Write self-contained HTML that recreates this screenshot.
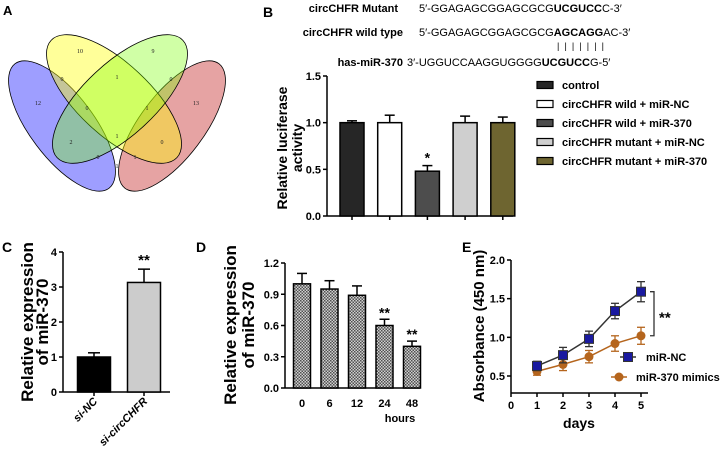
<!DOCTYPE html>
<html><head><meta charset="utf-8"><style>
html,body{margin:0;padding:0;background:#fff;}
svg{display:block;font-family:"Liberation Sans",Arial,sans-serif;}
.b{font-weight:bold;}
</style></head><body>
<svg id="fig" width="724" height="455" viewBox="0 0 724 455" xmlns="http://www.w3.org/2000/svg">
<defs>
<pattern id="chk" width="3" height="3" patternUnits="userSpaceOnUse">
<rect width="3" height="3" fill="#d0d0d0"/><rect width="1.5" height="1.5" fill="#505050"/><rect x="1.5" y="1.5" width="1.5" height="1.5" fill="#505050"/>
</pattern>
</defs>
<!-- Panel A Venn -->
<g>
<text x="3" y="15" class="b" font-size="13">A</text>
<ellipse cx="62" cy="126" rx="78" ry="32" transform="rotate(53 62 126)" fill="rgba(40,40,255,0.45)" stroke="#000" stroke-width="0.8"/>
<ellipse cx="172" cy="126" rx="78" ry="32" transform="rotate(-53 172 126)" fill="rgba(200,50,50,0.45)" stroke="#000" stroke-width="0.8"/>
<ellipse cx="114" cy="99" rx="86" ry="36" transform="rotate(43 114 99)" fill="rgba(255,255,0,0.4)" stroke="#000" stroke-width="0.8"/>
<ellipse cx="120" cy="99" rx="86" ry="36" transform="rotate(-43 120 99)" fill="rgba(120,255,0,0.35)" stroke="#000" stroke-width="0.8"/>
<g font-family="'Liberation Serif',serif" font-size="6" text-anchor="middle" fill="#222">
<text x="80" y="53">10</text><text x="153" y="53">9</text><text x="38" y="105">12</text><text x="196" y="105">13</text>
<text x="62" y="81">0</text><text x="117" y="79">1</text><text x="171" y="81">0</text><text x="87" y="110">0</text>
<text x="147" y="110">1</text><text x="71" y="144">2</text><text x="117" y="138">1</text><text x="162" y="144">0</text>
<text x="98" y="159">0</text><text x="135" y="159">1</text><text x="117" y="168">1</text>
</g>
</g>
<!-- Panel B header -->
<g font-size="11">
<text x="263" y="17" class="b" font-size="14">B</text>
<text x="398" y="12" class="b" text-anchor="end">circCHFR  Mutant</text>
<text x="419" y="12">5′-GGAGAGCGGAGCGCG<tspan class="b">UCGUCC</tspan>C-3′</text>
<text x="403" y="36" class="b" text-anchor="end">circCHFR wild type</text>
<text x="419" y="36">5′-GGAGAGCGGAGCGCG<tspan class="b">AGCAGG</tspan>AC-3′</text>
<text x="557" y="49" font-size="9" letter-spacing="1.3">| | | | | | |</text>
<text x="403" y="66" class="b" text-anchor="end">has-miR-370</text>
<text x="407" y="66">3′-UGGUCCAAGGUGGGG<tspan class="b">UCGUCC</tspan>G-5′</text>
</g>
<g id="pB"></g>
<g id="pC"></g>
<g id="pD"></g>
<g id="pE"></g>
</svg>
<script>
// Panel B data
const bGroups = ["control","circCHFR wild + miR-NC","circCHFR wild + miR-370","circCHFR mutant + miR-NC","circCHFR mutant + miR-370"];
const bValues = [1.0, 1.0, 0.48, 1.0, 1.0];
const bErrors = [0.02, 0.08, 0.06, 0.07, 0.06];
const bTicks = [0.0, 0.5, 1.0, 1.5];
// Panel C data
const cGroups = ["si-NC","si-circCHFR"];
const cValues = [1.0, 3.13];
const cErrors = [0.12, 0.38];
const cTicks = [0, 1, 2, 3, 4];
// Panel D data
const dGroups = ["0","6","12","24","48"];
const dValues = [1.0, 0.95, 0.89, 0.6, 0.4];
const dErrors = [0.1, 0.08, 0.09, 0.06, 0.05];
const dTicks = [0.0, 0.3, 0.6, 0.9, 1.2];
// Panel E data
const eDays = [1, 2, 3, 4, 5];
const eNC = [0.63, 0.77, 0.98, 1.34, 1.59];
const eNCerr = [0.06, 0.1, 0.1, 0.1, 0.13];
const eMim = [0.56, 0.65, 0.75, 0.92, 1.02];
const eMimErr = [0.05, 0.08, 0.08, 0.1, 0.11];
const eYTicks = [0.5, 1.0, 1.5, 2.0];
const eXTicks = [0, 1, 2, 3, 4, 5];

const NS = "http://www.w3.org/2000/svg";
function mk(parent, tag, attrs, txt) {
  const el = document.createElementNS(NS, tag);
  for (const k in attrs) el.setAttribute(k, attrs[k]);
  if (txt !== undefined) el.textContent = txt;
  parent.appendChild(el);
  return el;
}
function line(g, x1, y1, x2, y2, w, c) {
  return mk(g, "line", {x1, y1, x2, y2, stroke: c || "#000", "stroke-width": w || 1.5});
}
function errBar(g, x, yTop, yBase, hw, c) {
  line(g, x, yBase, x, yTop, 1.5, c); line(g, x - hw, yTop, x + hw, yTop, 1.5, c);
}

// ---------- Panel B ----------
(function () {
  const g = document.getElementById("pB");
  const x0 = 327, y0 = 216, y1 = 76, xEnd = 513;
  const ys = v => y0 - (v / 1.5) * (y0 - y1);
  const xs = i => 352 + i * 37.7;
  const fills = ["#262626", "#ffffff", "#4d4d4d", "#cfcfcf", "#6e6530"];
  line(g, x0, y1, x0, y0); line(g, x0, y0, xEnd, y0);
  bTicks.forEach(t => {
    line(g, x0 - 4, ys(t), x0, ys(t));
    const tl = mk(g, "text", {x: x0 - 6, y: ys(t) + 4, "text-anchor": "end", "font-size": 11, "font-weight": "bold"}, t.toFixed(1));
    
    
  });
  bValues.forEach((v, i) => {
    const cx = xs(i);
    errBar(g, cx, ys(v + bErrors[i]), ys(v), 5);
    const r = mk(g, "rect", {x: cx - 12, y: ys(v), width: 24, height: y0 - ys(v), fill: fills[i], stroke: "#000", "stroke-width": 1.5});
    
    
    line(g, cx, y0, cx, y0 + 4);
  });
  const star = mk(g, "text", {x: xs(2), y: ys(bValues[2] + bErrors[2]) - 3, "text-anchor": "middle", "font-size": 14, "font-weight": "bold"}, "*");
  
  
  const yl = mk(g, "text", {transform: "translate(287,148) rotate(-90)", "text-anchor": "middle", "font-size": 14, "font-weight": "bold"}, "Relative luciferase");
  
  
  const yl2 = mk(g, "text", {transform: "translate(302,148) rotate(-90)", "text-anchor": "middle", "font-size": 14, "font-weight": "bold"}, "activity");
  
  
  bGroups.forEach((name, i) => {
    const yy = 85 + i * 19;
    const lg = mk(g, "g", {});
    
    
    mk(lg, "rect", {x: 537, y: yy - 3.5, width: 16, height: 7, fill: fills[i], stroke: "#000", "stroke-width": 1.2});
    mk(lg, "text", {x: 562, y: yy + 4, "font-size": 11, "font-weight": "bold"}, name);
  });
})();

// ---------- Panel C ----------
(function () {
  const g = document.getElementById("pC");
  const x0 = 63, y0 = 392, y1 = 252;
  const ys = v => y0 - (v / 4) * (y0 - y1);
  const xs = i => 94 + i * 50;
  const fills = ["#000000", "#cccccc"];
  mk(g, "text", {x: 2, y: 252, "font-size": 14, "font-weight": "bold"}, "C");
  line(g, x0, y1, x0, y0); line(g, x0, y0, 170, y0);
  cTicks.forEach(t => {
    line(g, x0 - 4, ys(t), x0, ys(t));
    const tl = mk(g, "text", {x: x0 - 6, y: ys(t) + 4, "text-anchor": "end", "font-size": 11, "font-weight": "bold"}, String(t));
    
    
  });
  cValues.forEach((v, i) => {
    const cx = xs(i);
    errBar(g, cx, ys(v + cErrors[i]), ys(v), 6);
    const r = mk(g, "rect", {x: cx - 16.5, y: ys(v), width: 33, height: y0 - ys(v), fill: fills[i], stroke: "#000", "stroke-width": 1.5});
    
    
    line(g, cx, y0, cx, y0 + 4);
    const tl = mk(g, "text", {transform: `translate(${cx + 4},${y0 + 10}) rotate(-45)`, "text-anchor": "end", "font-size": 11, "font-weight": "bold", "font-style": "italic"}, cGroups[i]);
    
    
  });
  const s = mk(g, "text", {x: xs(1), y: ys(cValues[1] + cErrors[1]) - 4, "text-anchor": "middle", "font-size": 15, "font-weight": "bold"}, "**");
  
  
  const a = mk(g, "text", {transform: "translate(33,322) rotate(-90)", "text-anchor": "middle", "font-size": 17, "font-weight": "bold"}, "Relative expression");
  
  
  const b = mk(g, "text", {transform: "translate(48,322) rotate(-90)", "text-anchor": "middle", "font-size": 17, "font-weight": "bold"}, "of miR-370");
  
  
})();

// ---------- Panel D ----------
(function () {
  const g = document.getElementById("pD");
  const x0 = 285, y0 = 388, y1 = 263;
  const ys = v => y0 - (v / 1.2) * (y0 - y1);
  const xs = i => 302 + i * 27.5;
  mk(g, "text", {x: 196, y: 252, "font-size": 14, "font-weight": "bold"}, "D");
  line(g, x0, y1, x0, y0); line(g, x0, y0, 420, y0);
  dTicks.forEach(t => {
    line(g, x0 - 4, ys(t), x0, ys(t));
    const tl = mk(g, "text", {x: x0 - 6, y: ys(t) + 4, "text-anchor": "end", "font-size": 11, "font-weight": "bold"}, t.toFixed(1));
    
    
  });
  dValues.forEach((v, i) => {
    const cx = xs(i);
    errBar(g, cx, ys(v + dErrors[i]), ys(v), 5);
    const r = mk(g, "rect", {x: cx - 8.5, y: ys(v), width: 17, height: y0 - ys(v), fill: "url(#chk)", stroke: "#000", "stroke-width": 1.5});
    
    
    const tl = mk(g, "text", {x: cx, y: 407, "text-anchor": "middle", "font-size": 11, "font-weight": "bold"}, dGroups[i]);
    
    
    if (i >= 3) {
      const s = mk(g, "text", {x: cx, y: ys(v + dErrors[i]) - 2, "text-anchor": "middle", "font-size": 14, "font-weight": "bold"}, "**");
      
      
    }
  });
  const h = mk(g, "text", {x: 400, y: 422, "text-anchor": "middle", "font-size": 11, "font-weight": "bold"}, "hours");
  
  
  const a = mk(g, "text", {transform: "translate(236,325) rotate(-90)", "text-anchor": "middle", "font-size": 17, "font-weight": "bold"}, "Relative expression");
  
  
  const b = mk(g, "text", {transform: "translate(254,325) rotate(-90)", "text-anchor": "middle", "font-size": 17, "font-weight": "bold"}, "of miR-370");
  
  
})();

// ---------- Panel E ----------
(function () {
  const g = document.getElementById("pE");
  const x0 = 511, yBot = 393;
  const ys = v => 376 - (v - 0.5) / 1.5 * (376 - 260);
  const xs = d => 511 + d * 26;
  mk(g, "text", {x: 462, y: 252, "font-size": 14, "font-weight": "bold"}, "E");
  line(g, x0, 260, x0, yBot); line(g, x0, yBot, 648, yBot);
  eYTicks.forEach(t => {
    line(g, x0 - 4, ys(t), x0, ys(t));
    const tl = mk(g, "text", {x: x0 - 6, y: ys(t) + 4, "text-anchor": "end", "font-size": 11, "font-weight": "bold"}, t.toFixed(1));
    
    
  });
  eXTicks.forEach(t => {
    line(g, xs(t), yBot, xs(t), yBot + 4);
    const tl = mk(g, "text", {x: xs(t), y: 409, "text-anchor": "middle", "font-size": 11, "font-weight": "bold"}, String(t));
    
    
  });
  function series(vals, errs, col, shape, name) {
    const sg = mk(g, "g", {});
    
    
    mk(sg, "polyline", {points: eDays.map((d, i) => xs(d) + "," + ys(vals[i])).join(" "), fill: "none", stroke: col, "stroke-width": 1.5});
    eDays.forEach((d, i) => {
      const cx = xs(d), cy = ys(vals[i]);
      line(sg, cx, ys(vals[i] - errs[i]), cx, ys(vals[i] + errs[i]), 1.3, col);
      line(sg, cx - 4, ys(vals[i] + errs[i]), cx + 4, ys(vals[i] + errs[i]), 1.3, col);
      line(sg, cx - 4, ys(vals[i] - errs[i]), cx + 4, ys(vals[i] - errs[i]), 1.3, col);
      if (shape === "sq") mk(sg, "rect", {x: cx - 4.5, y: cy - 4.5, width: 9, height: 9, fill: "#1a1aa0", stroke: "#333", "stroke-width": 1});
      else mk(sg, "circle", {cx, cy, r: 4.5, fill: "#b5651d"});
    });
  }
  series(eMim, eMimErr, "#b5651d", "ci", "series-mir370-mimics");
  series(eNC, eNCerr, "#333333", "sq", "series-mir-nc");
  const bt = ys(eNC[4]), bb = ys(eMim[4]);
  mk(g, "polyline", {points: `650,${bt} 654,${bt} 654,${bb} 650,${bb}`, fill: "none", stroke: "#333", "stroke-width": 1.3});
  mk(g, "text", {x: 659, y: (bt + bb) / 2 + 9, "font-size": 15, "font-weight": "bold"}, "**");
  const l1 = mk(g, "g", {});
  
  
  line(l1, 620, 357, 636, 357, 1.5, "#333");
  mk(l1, "rect", {x: 623.5, y: 352.5, width: 9, height: 9, fill: "#1a1aa0", stroke: "#333"});
  mk(l1, "text", {x: 646, y: 361, "font-size": 11, "font-weight": "bold"}, "miR-NC");
  const l2 = mk(g, "g", {});
  
  
  line(l2, 611, 377, 627, 377, 1.5, "#b5651d");
  mk(l2, "circle", {cx: 619, cy: 377, r: 4.5, fill: "#b5651d"});
  mk(l2, "text", {x: 636, y: 381, "font-size": 11, "font-weight": "bold"}, "miR-370 mimics");
  const dl = mk(g, "text", {x: 579, y: 428, "text-anchor": "middle", "font-size": 14, "font-weight": "bold"}, "days");
  
  
  const yl = mk(g, "text", {transform: "translate(484,326) rotate(-90)", "text-anchor": "middle", "font-size": 15, "font-weight": "bold"}, "Absorbance (450 nm)");
  
  
})();
</script>
</body></html>
